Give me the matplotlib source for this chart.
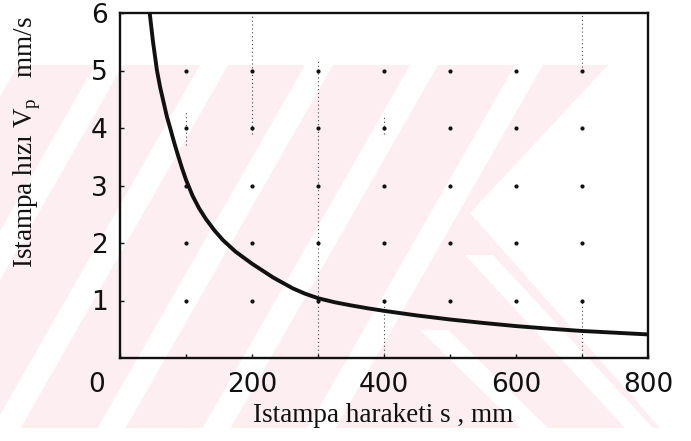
import numpy as np
import matplotlib
matplotlib.use("Agg")
import matplotlib.pyplot as plt
from matplotlib.patches import Polygon

# ---- data ----
s_mm = [45, 50, 56, 61, 66, 71, 76, 82, 88, 94, 100, 110, 120, 130, 143, 156, 175, 200,
        232, 262, 280, 300, 325, 350, 375, 400, 450, 500, 550, 600, 650, 700, 750, 800]
v_mms = [6.0, 5.5, 5.0, 4.7, 4.45, 4.2, 4.0, 3.75, 3.52, 3.3, 3.1, 2.82, 2.6, 2.42, 2.22,
         2.05, 1.85, 1.64, 1.40, 1.21, 1.12, 1.04, 0.97, 0.915, 0.865, 0.82, 0.74, 0.67,
         0.61, 0.555, 0.51, 0.47, 0.44, 0.41]

x_ticks = [0, 200, 400, 600, 800]
x_tick_labels = ["", "200", "400", "600", "800"]
y_ticks = [1, 2, 3, 4, 5, 6]
y_tick_labels = ["1", "2", "3", "4", "5", "6"]
grid_x = [100, 200, 300, 400, 500, 600, 700]
grid_y = [1, 2, 3, 4, 5]

# faint dotted grid fragments visible in the scan
seg_x = [200, 300, 400, 400, 700, 700, 100]
seg_y0 = [3.9, 0.0, 0.0, 3.9, 0.0, 5.0, 3.7]
seg_y1 = [6.0, 5.2, 1.0, 4.2, 1.0, 6.0, 4.3]

xlabel = "Istampa haraketi s , mm"
ylabel = r"Istampa hızı V$_\mathrm{p}$   mm/s"

plt.rcParams["mathtext.fontset"] = "custom"
plt.rcParams["mathtext.rm"] = "Liberation Serif"

W, H = 691, 441
fig = plt.figure(figsize=(W / 100, H / 100), dpi=100)
fig.patch.set_facecolor("white")


def px(pts):
    return [(x / W, 1 - y / H) for x, y in pts]


# ---- watermark-like pink background stripes ----
pink = "#fdeef1"
fig.patches.append(Polygon(px([(0, 65), (608, 65), (470, 213), (660, 428), (0, 428)]),
                           closed=True, transform=fig.transFigure, facecolor=pink,
                           edgecolor="none", zorder=-3))
slope = 1.75
for x0 in [-10, 95, 200, 305, 410, 515]:
    w = 28
    d = (428 - 65) / slope
    fig.patches.append(Polygon(px([(x0, 65), (x0 + w, 65), (x0 + w - d, 428), (x0 - d, 428)]),
                               closed=True, transform=fig.transFigure, facecolor="white",
                               edgecolor="none", zorder=-2))
for (xa, ya, xb, yb) in [(465, 255, 625, 428), (420, 330, 520, 428)]:
    w = 28
    fig.patches.append(Polygon(px([(xa, ya), (xa + w, ya), (xb + w, yb), (xb, yb)]),
                               closed=True, transform=fig.transFigure, facecolor="white",
                               edgecolor="none", zorder=-2))

# ---- axes ----
ax = fig.add_axes([120 / W, (H - 358) / H, 528 / W, 345 / H])
ax.set_facecolor("none")
ax.set_xlim(0, 800)
ax.set_ylim(0, 6)

gx, gy = np.meshgrid(grid_x, grid_y)
ax.scatter(gx.ravel(), gy.ravel(), s=9, color="#111111", linewidths=0, zorder=3)
ax.vlines(seg_x, seg_y0, seg_y1, colors="#444444", linestyles=(0, (1, 2.5)), linewidth=0.8, zorder=2)

ax.plot(s_mm, v_mms, color="#111111", lw=2.8, zorder=4, solid_joinstyle="round")

for sp in ax.spines.values():
    sp.set_linewidth(1.7)
    sp.set_color("#111111")

ax.set_xticks(x_ticks)
ax.set_xticklabels(x_tick_labels)
ax.set_yticks(y_ticks)
ax.set_yticklabels(y_tick_labels)
ax.set_xticks(grid_x, minor=True)
ax.tick_params(axis="both", which="both", direction="in", length=3, width=1, color="#111111")
ax.tick_params(axis="x", which="major", pad=10, labelsize=19)
ax.tick_params(axis="y", which="major", pad=9, labelsize=19)
for lab in ax.get_xticklabels() + ax.get_yticklabels():
    lab.set_fontfamily("DejaVu Sans")
    lab.set_color("#111111")

ax.annotate("0", xy=(0, 0), xycoords=("data", "axes fraction"), xytext=(-16.5, -10),
            textcoords="offset points", ha="center", va="top", fontsize=19,
            family="DejaVu Sans", color="#111111")

fig.text(383 / W, 1 - 415 / H, xlabel, ha="center", va="center", fontsize=19.5,
         family="Liberation Serif", color="#111111")
fig.text(27 / W, 1 - 142 / H, ylabel, ha="center", va="center", rotation=90,
         fontsize=19.5, family="Liberation Serif", color="#111111")

fig.savefig("out.png", dpi=100)
